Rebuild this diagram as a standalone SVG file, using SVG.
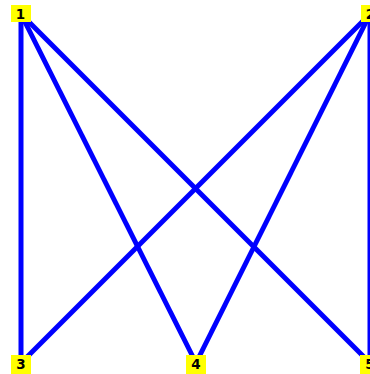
<svg xmlns="http://www.w3.org/2000/svg" width="370" height="374" viewBox="0 0 370 374">
<style>
.e{stroke:#0000ff;stroke-width:5;fill:none}
.b{fill:#ffff00}
.t{font-family:"DejaVu Sans",sans-serif;font-size:13.5px;font-weight:bold;fill:#000;text-anchor:middle}
</style>
<rect width="370" height="374" fill="#fff"/>
<g id="edges">
<line class="e" x1="21" y1="14" x2="21" y2="363"/>
<line class="e" x1="21" y1="14" x2="196" y2="363"/>
<line class="e" x1="21" y1="14" x2="370" y2="363"/>
<line class="e" x1="370" y1="14" x2="21" y2="363"/>
<line class="e" x1="370" y1="14" x2="196" y2="363"/>
<line class="e" x1="370" y1="14" x2="370" y2="363"/>
</g>
<g id="n1"><rect class="b" x="11" y="5" width="20" height="17"/><text class="t" x="20.5" y="19">1</text></g>
<g id="n2"><rect class="b" x="361" y="5" width="20" height="17"/><text class="t" x="370.5" y="19">2</text></g>
<g id="n3"><rect class="b" x="11" y="355" width="20" height="19"/><text class="t" x="21" y="369">3</text></g>
<g id="n4"><rect class="b" x="186" y="355" width="20" height="19"/><text class="t" x="196" y="369">4</text></g>
<g id="n5"><rect class="b" x="360" y="355" width="20" height="19"/><text class="t" x="370" y="369">5</text></g>
</svg>
